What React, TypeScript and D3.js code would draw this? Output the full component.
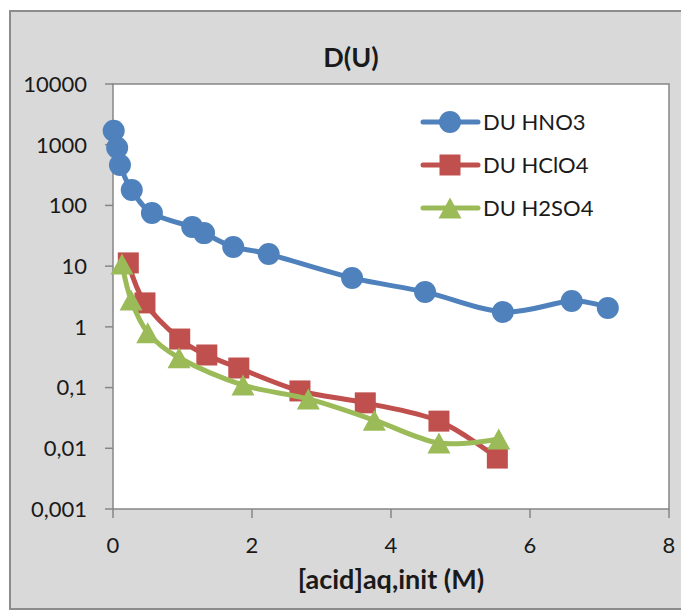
import React from "react";
import * as d3 from "d3";

const hno3X = [0.01, 0.06, 0.1, 0.27, 0.56, 1.14, 1.31, 1.73, 2.24, 3.44, 4.49, 5.61, 6.6, 7.12];
const hno3Y = [1700, 890, 465, 180, 75, 44, 35, 20.7, 15.8, 6.4, 3.76, 1.76, 2.67, 2.05];

const hclo4X = [0.22, 0.46, 0.96, 1.35, 1.81, 2.69, 3.63, 4.69, 5.53];
const hclo4Y = [11.3, 2.48, 0.63, 0.344, 0.21, 0.088, 0.056, 0.028, 0.0069];

const h2so4X = [0.13, 0.26, 0.5, 0.95, 1.87, 2.81, 3.76, 4.69, 5.55];
const h2so4Y = [10.8, 2.77, 0.8, 0.31, 0.11, 0.065, 0.029, 0.0122, 0.0142];

const xTicks = [0, 2, 4, 6, 8];
const yTicks = [10000, 1000, 100, 10, 1, 0.1, 0.01, 0.001];
const yTickLabels = ["10000", "1000", "100", "10", "1", "0,1", "0,01", "0,001"];

const seriesNames = ["DU HNO3", "DU HClO4", "DU H2SO4"];
const seriesColors = ["#4F81BD", "#C0504D", "#9BBB59"];
const seriesMarkers = ["circle", "square", "triangle"];

const FONT = "Lato, 'Open Sans', sans-serif";

function Marker({ type, x, y, color }: { type: string; x: number; y: number; color: string }) {
  if (type === "circle") return <circle cx={x} cy={y} r={11} fill={color} />;
  if (type === "square") return <rect x={x - 10.5} y={y - 10.5} width={21} height={21} fill={color} />;
  const w = 23, h = 21;
  return (
    <path
      d={`M${x},${y - h / 2} L${x + w / 2},${y + h / 2} L${x - w / 2},${y + h / 2} Z`}
      fill={color}
    />
  );
}

export default function App() {
  const left = 113, right = 669, top = 84, bottom = 509;
  const x = d3.scaleLinear().domain([0, 8]).range([left, right]);
  const y = d3.scaleLog().domain([0.001, 10000]).range([bottom, top]);

  const series = [
    { xs: hno3X, ys: hno3Y },
    { xs: hclo4X, ys: hclo4Y },
    { xs: h2so4X, ys: h2so4Y },
  ];

  const line = d3
    .line<[number, number]>()
    .x((d) => x(d[0]))
    .y((d) => y(d[1]))
    .curve(d3.curveCardinal.tension(0));

  const axisColor = "#868686";

  return (
    <svg
      width={681}
      height={610}
      style={{ position: "absolute", left: 0, top: 0 }}
      fontFamily={FONT}
    >
      <rect x={0} y={0} width={681} height={610} fill="#ffffff" />
      <rect x={10} y={11} width={700} height={598} fill="#D9D9D9" stroke="#8C8C8C" strokeWidth={2} />
      <rect x={left} y={top} width={right - left} height={bottom - top} fill="#ffffff" stroke={axisColor} strokeWidth={1.5} />

      {/* Y ticks */}
      {yTicks.map((t, i) => (
        <g key={"y" + i}>
          <line x1={left - 8} x2={left} y1={y(t)} y2={y(t)} stroke={axisColor} strokeWidth={1.5} />
          <text x={left - 26} y={y(t)} dy="0.36em" textAnchor="end" fontSize={22} fill="#1a1a1a">
            {yTickLabels[i]}
          </text>
        </g>
      ))}
      {/* X ticks */}
      {xTicks.map((t, i) => (
        <g key={"x" + i}>
          <line x1={x(t)} x2={x(t)} y1={bottom} y2={bottom + 9} stroke={axisColor} strokeWidth={1.5} />
          <text x={x(t)} y={545} dy="0.36em" textAnchor="middle" fontSize={22} fill="#1a1a1a">
            {t}
          </text>
        </g>
      ))}

      {/* Series */}
      {series.map((s, si) => {
        const pts: [number, number][] = s.xs.map((v, i) => [v, s.ys[i]]);
        return (
          <g key={"s" + si}>
            <path d={line(pts) || ""} fill="none" stroke={seriesColors[si]} strokeWidth={5} strokeLinejoin="round" strokeLinecap="round" />
            {pts.map((p, i) => (
              <Marker key={i} type={seriesMarkers[si]} x={x(p[0])} y={y(p[1])} color={seriesColors[si]} />
            ))}
          </g>
        );
      })}

      {/* Legend */}
      {seriesNames.map((n, i) => {
        const ly = 122 + i * 43;
        return (
          <g key={"l" + i}>
            <line x1={423} x2={478} y1={ly} y2={ly} stroke={seriesColors[i]} strokeWidth={5} strokeLinecap="round" />
            <Marker type={seriesMarkers[i]} x={450} y={ly} color={seriesColors[i]} />
            <text x={483} y={ly} dy="0.36em" fontSize={22} fill="#1a1a1a">
              {n}
            </text>
          </g>
        );
      })}

      {/* Title */}
      <text x={351} y={57} dy="0.36em" textAnchor="middle" fontSize={27} fontWeight="bold" fill="#1a1a1a">
        D(U)
      </text>
      <text x={(left + right) / 2} y={579} dy="0.36em" textAnchor="middle" fontSize={27} fontWeight="bold" fill="#1a1a1a">
        [acid]aq,init (M)
      </text>
    </svg>
  );
}
